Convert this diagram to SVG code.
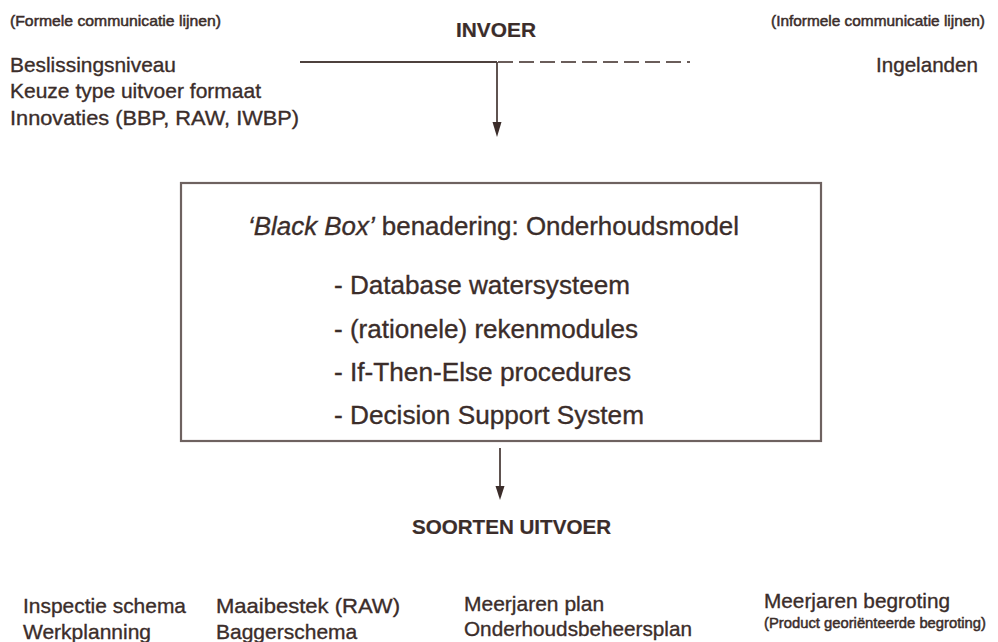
<svg xmlns="http://www.w3.org/2000/svg" width="998" height="642" viewBox="0 0 998 642">
  <defs>
    <style>
      .t { font-family: "Liberation Sans", Arial, sans-serif; fill: #3b2d2a; stroke: #3b2d2a; stroke-width: 0.35; }
      .small { font-size: 15px; stroke-width: 0.5; }
      .mid { font-size: 21px; }
      .big { font-size: 26px; }
      .head { font-size: 20.5px; font-weight: bold; stroke-width: 0.2; }
      .line { stroke: #4e413e; stroke-width: 1.8; fill: none; }
      .dash { stroke: #6a5d5a; stroke-width: 1.8; fill: none; stroke-dasharray: 15 6; }
      .box { stroke: #6e6260; stroke-width: 2.2; fill: #ffffff; }
      .head-arrow { fill: #3b2d2a; }
    </style>
  </defs>

  <rect width="998" height="642" fill="#ffffff"/>

  <!-- column labels -->
  <g id="formal-label">
    <text class="t small" x="10" y="26" textLength="211" lengthAdjust="spacingAndGlyphs">(Formele communicatie lijnen)</text>
  </g>
  <g id="informal-label">
    <text class="t small" x="771" y="26" textLength="214" lengthAdjust="spacingAndGlyphs">(Informele communicatie lijnen)</text>
  </g>

  <!-- input heading -->
  <g id="invoer">
    <text class="t head" x="456" y="37" textLength="80" lengthAdjust="spacingAndGlyphs">INVOER</text>
  </g>

  <!-- formal inputs -->
  <g id="formal-inputs">
    <text class="t mid" x="10" y="72" textLength="166" lengthAdjust="spacingAndGlyphs">Beslissingsniveau</text>
    <text class="t mid" x="10" y="98" textLength="251" lengthAdjust="spacingAndGlyphs">Keuze type uitvoer formaat</text>
    <text class="t mid" x="10" y="125" textLength="289" lengthAdjust="spacingAndGlyphs">Innovaties (BBP, RAW, IWBP)</text>
  </g>

  <!-- informal inputs -->
  <g id="informal-inputs">
    <text class="t mid" x="876" y="72" textLength="102" lengthAdjust="spacingAndGlyphs">Ingelanden</text>
  </g>

  <!-- maintenance model -->
  <g id="blackbox">
    <rect class="box" x="181" y="183" width="640" height="258"/>
    <text class="t big" x="248" y="235" textLength="491" lengthAdjust="spacingAndGlyphs"><tspan font-style="italic">‘Black Box’</tspan> benadering: Onderhoudsmodel</text>
    <text class="t big" x="334" y="294" textLength="296" lengthAdjust="spacingAndGlyphs">- Database watersysteem</text>
    <text class="t big" x="334" y="338" textLength="304" lengthAdjust="spacingAndGlyphs">- (rationele) rekenmodules</text>
    <text class="t big" x="334" y="381" textLength="297" lengthAdjust="spacingAndGlyphs">- If-Then-Else procedures</text>
    <text class="t big" x="334" y="424" textLength="310" lengthAdjust="spacingAndGlyphs">- Decision Support System</text>
  </g>

  <!-- output heading -->
  <g id="uitvoer">
    <text class="t head" x="412" y="534" textLength="199" lengthAdjust="spacingAndGlyphs">SOORTEN UITVOER</text>
  </g>

  <!-- output types -->
  <g id="output-1">
    <text class="t mid" x="23" y="613" textLength="163" lengthAdjust="spacingAndGlyphs">Inspectie schema</text>
    <text class="t mid" x="23" y="639">Werkplanning</text>
  </g>
  <g id="output-2">
    <text class="t mid" x="216" y="613" textLength="184" lengthAdjust="spacingAndGlyphs">Maaibestek (RAW)</text>
    <text class="t mid" x="216" y="639">Baggerschema</text>
  </g>
  <g id="output-3">
    <text class="t mid" x="464" y="611">Meerjaren plan</text>
    <text class="t mid" x="464" y="636" textLength="228" lengthAdjust="spacingAndGlyphs">Onderhoudsbeheersplan</text>
  </g>
  <g id="output-4">
    <text class="t mid" x="764" y="608" textLength="186" lengthAdjust="spacingAndGlyphs">Meerjaren begroting</text>
    <text class="t small" x="764" y="628" textLength="222" lengthAdjust="spacingAndGlyphs">(Product georiënteerde begroting)</text>
  </g>

  <!-- connectors -->
  <g id="connectors">
    <line class="line" x1="300" y1="62" x2="497" y2="62"/>
    <line class="dash" x1="498" y1="62" x2="690" y2="62"/>
    <line class="line" x1="497" y1="62" x2="497" y2="124"/>
    <polygon class="head-arrow" points="492.5,122 501.5,122 497,137"/>
    <line class="line" x1="500" y1="448" x2="500" y2="488"/>
    <polygon class="head-arrow" points="495.5,486 504.5,486 500,500"/>
  </g>
</svg>
